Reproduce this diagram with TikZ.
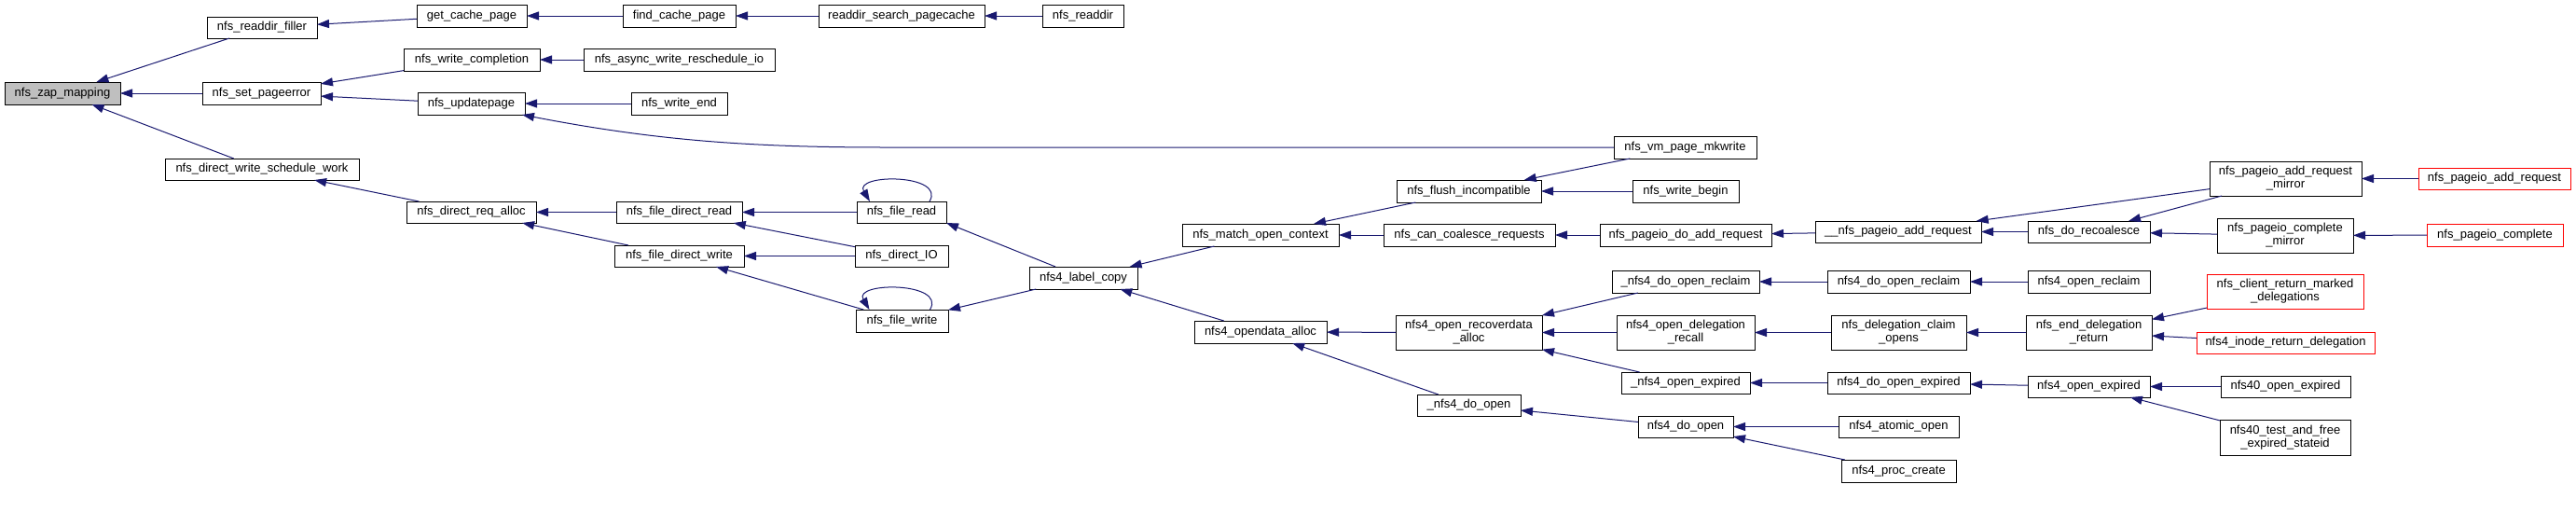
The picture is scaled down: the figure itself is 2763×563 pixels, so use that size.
\documentclass[tikz,border=0pt]{standalone}
\usepackage{fontspec}
\setmainfont{Liberation Sans}
\usetikzlibrary{arrows.meta}
\definecolor{edgec}{HTML}{191970}
\definecolor{zapfill}{HTML}{BFBFBF}
\tikzset{
  nbox/.style={draw=black, line width=1pt, fill=white, inner sep=0pt, outer sep=0pt, align=center,
    font=\fontsize{13}{14}\selectfont},
  redbox/.style={draw=red},
  curbox/.style={fill=zapfill},
  edge/.style={draw=edgec, line width=1pt, {Triangle[length=13pt,width=9pt]}-}
}
\newcommand{\mkbox}[7][]{%
  \node[nbox,#1,minimum width={(#5-#3)*1pt},minimum height={(#6-#4)*1pt}] (#2) at ({(#3+#5)/2},{(#4+#6)/2}) {#7};}
\begin{document}
\begin{tikzpicture}[x=1pt,y=-1pt]
\fill[white] (0,0) rectangle (2763,563);
\useasboundingbox (0,0) rectangle (2763,563);
% nodes
\mkbox[curbox]{zap}{5}{88}{129}{112}{nfs\_zap\_mapping}
\mkbox{filler}{222}{18}{340}{41}{nfs\_readdir\_filler}
\mkbox{setpe}{217}{88}{344}{112}{nfs\_set\_pageerror}
\mkbox{dwsw}{177}{170}{385}{193}{nfs\_direct\_write\_schedule\_work}
\mkbox{gcp}{447}{5}{565}{29}{get\_cache\_page}
\mkbox{fcp}{668}{5}{789}{29}{find\_cache\_page}
\mkbox{wcomp}{433}{52}{579}{76}{nfs\_write\_completion}
\mkbox{awr}{626}{52}{831}{76}{nfs\_async\_write\_reschedule\_io}
\mkbox{upd}{448}{99}{563}{123}{nfs\_updatepage}
\mkbox{wend}{677}{99}{780}{123}{nfs\_write\_end}
\mkbox{dra}{436}{216}{575}{239}{nfs\_direct\_req\_alloc}
\mkbox{fdr}{661}{216}{796}{239}{nfs\_file\_direct\_read}
\mkbox{fdw}{659}{263}{798}{286}{nfs\_file\_direct\_write}
\mkbox{rsp}{878}{5}{1056}{29}{readdir\_search\_pagecache}
\mkbox{rdir}{1118}{5}{1205}{29}{nfs\_readdir}
\mkbox{fread}{919}{216}{1015}{239}{nfs\_file\_read}
\mkbox{dio}{917}{263}{1017}{286}{nfs\_direct\_IO}
\mkbox{fwrite}{918}{332}{1017}{356}{nfs\_file\_write}
\mkbox{label}{1104}{286}{1220}{310}{nfs4\_label\_copy}
\mkbox{match}{1268}{240}{1436}{264}{nfs\_match\_open\_context}
\mkbox{flush}{1498}{193}{1653}{217}{nfs\_flush\_incompatible}
\mkbox{canc}{1484}{240}{1668}{264}{nfs\_can\_coalesce\_requests}
\mkbox{oda}{1281}{344}{1423}{368}{nfs4\_opendata\_alloc}
\mkbox{ora}{1497}{338}{1654}{375}{nfs4\_open\_recoverdata\\\_alloc}
\mkbox{ndou}{1520}{423}{1631}{446}{\_nfs4\_do\_open}
\mkbox{vm}{1731}{146}{1884}{170}{nfs\_vm\_page\_mkwrite}
\mkbox{wbeg}{1751}{193}{1865}{217}{nfs\_write\_begin}
\mkbox{pdar}{1716}{240}{1900}{264}{nfs\_pageio\_do\_add\_request}
\mkbox{upar}{1947}{237}{2125}{260}{\_\_nfs\_pageio\_add\_request}
\mkbox{dorcu}{1729}{290}{1887}{314}{\_nfs4\_do\_open\_reclaim}
\mkbox{dorc}{1960}{290}{2113}{314}{nfs4\_do\_open\_reclaim}
\mkbox{odr}{1734}{338}{1882}{375}{nfs4\_open\_delegation\\\_recall}
\mkbox{dco}{1964}{338}{2109}{375}{nfs\_delegation\_claim\\\_opens}
\mkbox{oexpu}{1739}{399}{1877}{422}{\_nfs4\_open\_expired}
\mkbox{doexp}{1960}{399}{2113}{422}{nfs4\_do\_open\_expired}
\mkbox{ndo}{1757}{446}{1859}{469}{nfs4\_do\_open}
\mkbox{aopen}{1972}{446}{2101}{469}{nfs4\_atomic\_open}
\mkbox{pcreate}{1975}{493}{2098}{517}{nfs4\_proc\_create}
\mkbox{parm}{2370}{173}{2533}{210}{nfs\_pageio\_add\_request\\\_mirror}
\mkbox{recoal}{2175}{237}{2306}{260}{nfs\_do\_recoalesce}
\mkbox{pcm}{2378}{234}{2524}{271}{nfs\_pageio\_complete\\\_mirror}
\mkbox{oreclaim}{2175}{290}{2306}{314}{nfs4\_open\_reclaim}
\mkbox[redbox]{crm}{2367}{294}{2535}{331}{nfs\_client\_return\_marked\\\_delegations}
\mkbox{edr}{2173}{338}{2308}{375}{nfs\_end\_delegation\\\_return}
\mkbox[redbox]{ird}{2356}{356}{2547}{379}{nfs4\_inode\_return\_delegation}
\mkbox{oexp}{2175}{403}{2306}{426}{nfs4\_open\_expired}
\mkbox{oexpf}{2382}{403}{2521}{426}{nfs40\_open\_expired}
\mkbox{otest}{2381}{450}{2521}{488}{nfs40\_test\_and\_free\\\_expired\_stateid}
\mkbox[redbox]{par}{2594}{180}{2757}{203}{nfs\_pageio\_add\_request}
\mkbox[redbox]{pc}{2603}{240}{2749}{264}{nfs\_pageio\_complete}
% edges
\draw[edge] (zap) -- (filler);
\draw[edge] (zap) -- (setpe);
\draw[edge] (zap) -- (dwsw);
\draw[edge] (filler) -- (gcp);
\draw[edge] (gcp) -- (fcp);
\draw[edge] (fcp) -- (rsp);
\draw[edge] (rsp) -- (rdir);
\draw[edge] (setpe) -- (wcomp);
\draw[edge] (setpe) -- (upd);
\draw[edge] (wcomp) -- (awr);
\draw[edge] (upd) -- (wend);
\coordinate (vmbend) at (950,158);
\draw[edge] ([xshift=-3pt]upd.south east) .. controls (700,150) and (800,158) .. (vmbend) -- (vm.west);
\draw[edge] (dwsw) -- (dra);
\draw[edge] (dra) -- (fdr);
\draw[edge] (dra) -- (fdw);
\draw[edge] (fdr) -- (fread);
\draw[edge] (fdr) -- (dio);
\draw[edge] (fdw) -- (dio);
\draw[edge] (fdw) -- (fwrite);
\draw[edge] ([xshift=-34pt]fread.north) .. controls +(-18,-30) and +(18,-30) .. ([xshift=30pt]fread.north);
\draw[edge] ([xshift=-35pt]fwrite.north) .. controls +(-18,-30) and +(18,-30) .. ([xshift=30pt]fwrite.north);
\draw[edge] (fread.south east) -- (label);
\draw[edge] (fwrite) -- (label);
\draw[edge] (label) -- (match);
\draw[edge] (label) -- (oda);
\draw[edge] (match) -- (flush);
\draw[edge] (match) -- (canc);
\draw[edge] (flush) -- (vm);
\draw[edge] (flush) -- (wbeg);
\draw[edge] (canc) -- (pdar);
\draw[edge] (pdar) -- (upar);
\draw[edge] (upar) -- (parm);
\draw[edge] (upar) -- (recoal);
\draw[edge] (recoal) -- (parm);
\draw[edge] (recoal) -- (pcm);
\draw[edge] (parm) -- (par);
\draw[edge] (pcm) -- (pc);
\draw[edge] (oda) -- (ora);
\draw[edge] (oda) -- (ndou);
\draw[edge] (ora) -- (dorcu);
\draw[edge] (ora) -- (odr);
\draw[edge] (ora) -- (oexpu);
\draw[edge] (dorcu) -- (dorc);
\draw[edge] (dorc) -- (oreclaim);
\draw[edge] (odr) -- (dco);
\draw[edge] (dco) -- (edr);
\draw[edge] (edr) -- (crm);
\draw[edge] (edr) -- (ird);
\draw[edge] (oexpu) -- (doexp);
\draw[edge] (doexp) -- (oexp);
\draw[edge] (oexp) -- (oexpf);
\draw[edge] (oexp) -- (otest);
\draw[edge] (ndou) -- (ndo);
\draw[edge] (ndo) -- (aopen);
\draw[edge] (ndo) -- (pcreate);
\end{tikzpicture}
\end{document}
